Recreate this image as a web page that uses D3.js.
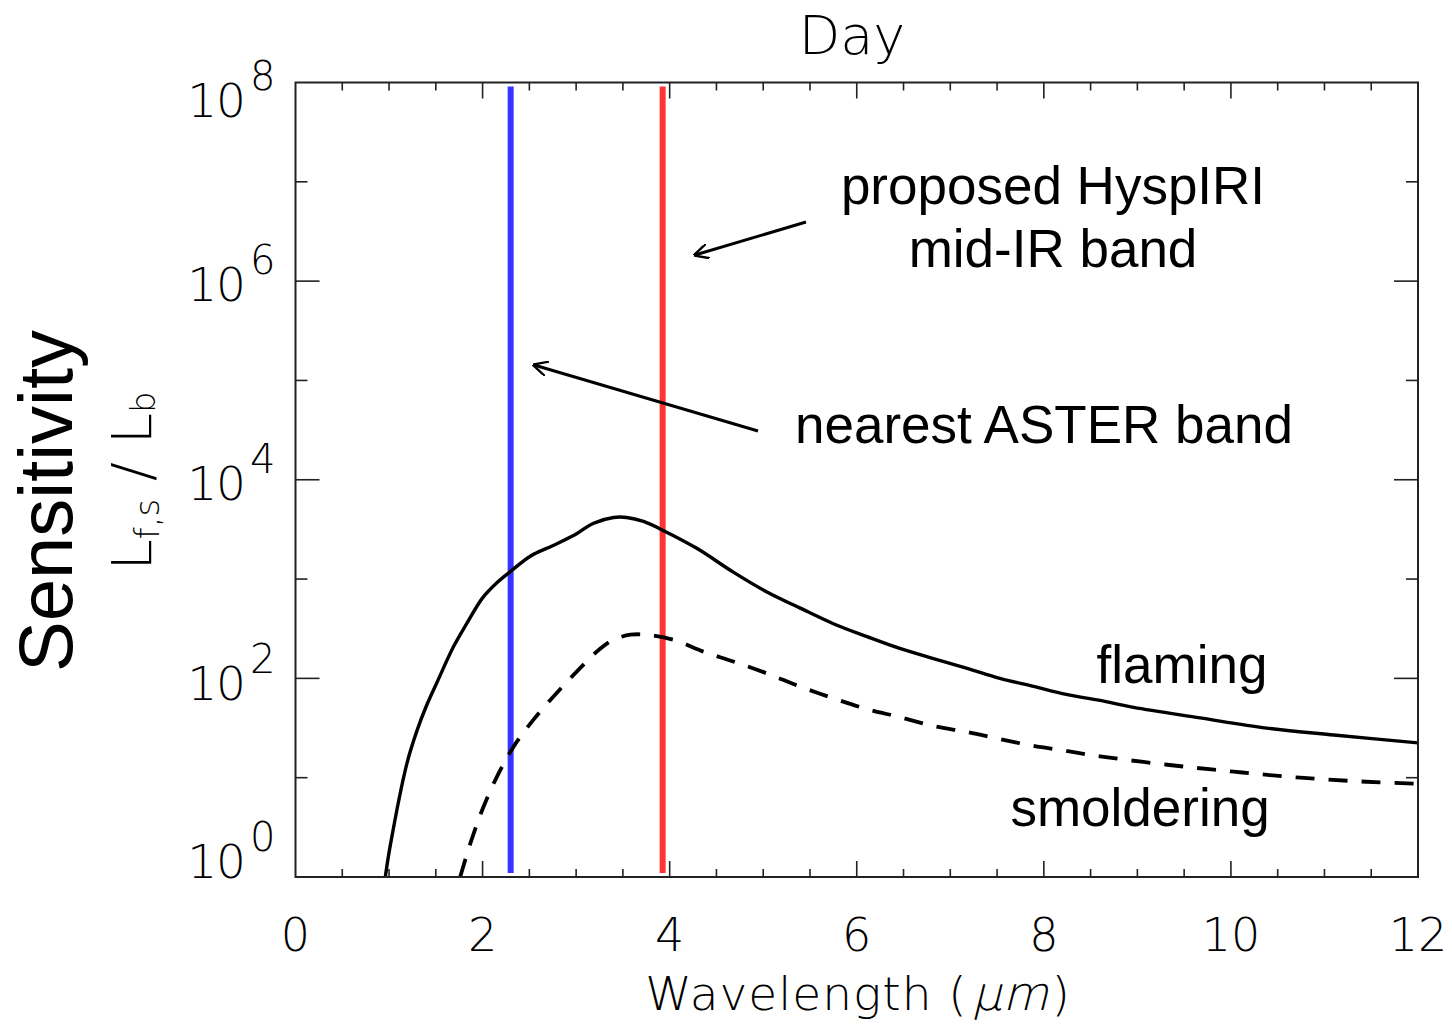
<!DOCTYPE html>
<html>
<head>
<meta charset="utf-8">
<script src="https://cdn.jsdelivr.net/npm/d3@7"></script>
<style>
  body { margin: 0; background: #fff; }
  .hershey { font-family: "DejaVu Sans", sans-serif; font-weight: 200; }
  .arial { font-family: "Liberation Sans", Arial, sans-serif; }
</style>
</head>
<body>
<div id="chart"></div>
<script>
// wavelength (um) and sensitivity Lf,s / Lb
let flamingX = [0.96, 1.01, 1.19, 1.30, 1.40, 1.51, 1.69, 1.83, 2.00, 2.15, 2.29, 2.51, 2.76, 3.01, 3.18, 3.40, 3.54, 3.72, 3.93, 4.29, 4.68, 5.04, 5.39, 5.75, 6.11, 6.46, 6.82, 7.18, 7.53, 7.89, 8.24, 8.60, 8.96, 9.67, 10.38, 11.10, 12.0];
let flamingY = [1.0, 2.0, 13.8, 30, 53, 90, 209, 355, 646, 912, 1175, 1700, 2190, 2880, 3630, 4170, 4170, 3800, 3090, 2040, 1175, 741, 513, 355, 263, 200, 158, 126, 100, 83, 69, 60, 51, 40, 31.6, 26.9, 22.4];

let smolderX = [1.76, 1.88, 2.01, 2.17, 2.33, 2.54, 2.79, 3.04, 3.26, 3.40, 3.58, 3.75, 4.04, 4.36, 4.68, 5.04, 5.39, 5.75, 6.11, 6.46, 6.82, 7.18, 7.53, 7.89, 8.24, 8.60, 9.32, 10.03, 10.74, 11.45, 12.0];
let smolderY = [1.0, 2.34, 5.1, 11, 20.4, 38, 70.8, 126, 200, 245, 275, 275, 245, 186, 148, 112, 83, 63, 49, 40.7, 33.1, 28.8, 24.5, 20.9, 18.6, 16.4, 13.5, 11.5, 10.0, 9.1, 8.7];

let bands = [{name: 'ASTER', x: 2.30, color: '#3535ff'}, {name: 'HyspIRI', x: 3.925, color: '#ff3434'}];

let xTicks = [0, 2, 4, 6, 8, 10, 12];
let yExponents = [0, 2, 4, 6, 8];

let width = 1452, height = 1028;
let pLeft = 295.5, pRight = 1418, pTop = 82.5, pBottom = 877;

let svg = d3.select('#chart').append('svg')
    .attr('width', width)
    .attr('height', height);

let x = d3.scaleLinear().domain([0, 12]).range([pLeft, pRight]);
let y = d3.scaleLog().domain([1, 1e8]).range([pBottom, pTop]);

svg.append('clipPath').attr('id', 'plot')
    .append('rect')
    .attr('x', pLeft).attr('y', pTop)
    .attr('width', pRight - pLeft).attr('height', pBottom - pTop);

// band markers
svg.selectAll('.band')
    .data(bands)
    .enter()
    .append('line')
    .attr('class', 'band')
    .attr('x1', d => x(d.x)).attr('x2', d => x(d.x))
    .attr('y1', pTop + 4).attr('y2', pBottom - 4)
    .attr('stroke', d => d.color)
    .attr('stroke-width', 6);

// curves
let line = d3.line()
    .x(d => x(d[0]))
    .y(d => y(d[1]))
    .curve(d3.curveCatmullRom.alpha(0.5));

let g = svg.append('g').attr('clip-path', 'url(#plot)');
g.append('path')
    .attr('d', line(d3.zip(flamingX, flamingY)))
    .attr('fill', 'none')
    .attr('stroke', '#000')
    .attr('stroke-width', 3.4);
g.append('path')
    .attr('d', line(d3.zip(smolderX, smolderY)))
    .attr('fill', 'none')
    .attr('stroke', '#000')
    .attr('stroke-width', 3.8)
    .attr('stroke-dasharray', '19,14');

// frame and ticks
let minorX = d3.range(0, 12.01, 0.5);
let decades = d3.range(0, 9);

let frame = svg.append('g').attr('stroke', '#222').attr('fill', 'none');
frame.append('rect')
    .attr('x', pLeft).attr('y', pTop)
    .attr('width', pRight - pLeft).attr('height', pBottom - pTop)
    .attr('stroke-width', 2);

minorX.forEach(v => {
    let len = (v % 2 === 0) ? 16 : 8;
    if (v === 0 || v === 12) return;
    frame.append('line').attr('x1', x(v)).attr('x2', x(v))
        .attr('y1', pBottom).attr('y2', pBottom - len).attr('stroke-width', 1.6);
    frame.append('line').attr('x1', x(v)).attr('x2', x(v))
        .attr('y1', pTop).attr('y2', pTop + len).attr('stroke-width', 1.6);
});
decades.forEach(e => {
    if (e === 0 || e === 8) return;
    let len = (e % 2 === 0) ? 24 : 12;
    let yy = y(Math.pow(10, e));
    frame.append('line').attr('x1', pLeft).attr('x2', pLeft + len)
        .attr('y1', yy).attr('y2', yy).attr('stroke-width', 1.6);
    frame.append('line').attr('x1', pRight).attr('x2', pRight - len)
        .attr('y1', yy).attr('y2', yy).attr('stroke-width', 1.6);
});

// x tick labels
svg.selectAll('.xlab')
    .data(xTicks)
    .enter()
    .append('text')
    .attr('class', 'hershey')
    .attr('x', d => x(d))
    .attr('y', 951)
    .attr('text-anchor', 'middle')
    .style('font-size', '46px')
    .text(d => d);

// y tick labels
let yLabelBase = {0: 878, 2: 700, 4: 500, 6: 301, 8: 117};
yExponents.forEach(e => {
    let t = svg.append('g').attr('class', 'hershey');
    t.append('text')
        .attr('x', 245).attr('y', yLabelBase[e])
        .attr('text-anchor', 'end')
        .style('font-size', '47px')
        .style('letter-spacing', '-1px')
        .text('10');
    t.append('text')
        .attr('x', 250).attr('y', yLabelBase[e] - 27)
        .style('font-size', '40px')
        .text(e);
});

// titles
svg.append('text')
    .attr('class', 'hershey')
    .attr('x', 852).attr('y', 54)
    .attr('text-anchor', 'middle')
    .style('font-size', '54px')
    .text('Day');

// x title: light glyphs, mu + m slanted by hand so they stay thin
let xt = svg.append('g').attr('class', 'hershey')
    .style('font-size', '47px').style('letter-spacing', '1px');
let part1 = xt.append('text').attr('y', 1010).text('Wavelength (');
let part2 = xt.append('text').text('\u03bcm');
let part3 = xt.append('text').attr('y', 1010).text(')');
let w1 = part1.node().getComputedTextLength(),
    w2 = part2.node().getComputedTextLength(),
    w3 = part3.node().getComputedTextLength();
let x0 = 857 - (w1 + w2 + w3 + 4) / 2;
part1.attr('x', x0);
part2.attr('transform', 'translate(' + (x0 + w1 + 4) + ',1010) skewX(-14)');
part3.attr('x', x0 + w1 + w2 + 6);

svg.append('text')
    .attr('class', 'arial')
    .attr('transform', 'translate(72,501) rotate(-90)')
    .attr('text-anchor', 'middle')
    .style('font-size', '76px')
    .text('Sensitivity');

let yl = svg.append('text')
    .attr('class', 'hershey')
    .attr('transform', 'translate(151,481) rotate(-90)')
    .attr('text-anchor', 'middle')
    .style('font-size', '56px');
yl.append('tspan').text('L');
yl.append('tspan').attr('dy', 8).style('font-size', '34px').text('f,s');
yl.append('tspan').attr('dy', -8).text(' / L');
yl.append('tspan').attr('dy', 4).style('font-size', '34px').text('b');

// annotations
let notes = [
    {text: 'proposed HyspIRI', x: 1053, y: 204},
    {text: 'mid-IR band', x: 1053, y: 267},
    {text: 'nearest ASTER band', x: 1044, y: 443},
    {text: 'flaming', x: 1182, y: 683},
    {text: 'smoldering', x: 1140, y: 826}
];
svg.selectAll('.note')
    .data(notes)
    .enter()
    .append('text')
    .attr('class', 'arial')
    .attr('x', d => d.x).attr('y', d => d.y)
    .attr('text-anchor', 'middle')
    .style('font-size', '53px')
    .text(d => d.text);

svg.append('defs').append('marker')
    .attr('id', 'head')
    .attr('viewBox', '0 0 10 10')
    .attr('refX', 9).attr('refY', 5)
    .attr('markerWidth', 5).attr('markerHeight', 5)
    .attr('markerUnits', 'strokeWidth')
    .attr('orient', 'auto')
    .append('path')
    .attr('d', 'M0,0 L10,5 L0,10')
    .attr('fill', 'none')
    .attr('stroke', '#000')
    .attr('stroke-width', 1.6);

let arrows = [
    {x1: 806, y1: 222, x2: 695, y2: 255},
    {x1: 758, y1: 431, x2: 534, y2: 365}
];
svg.selectAll('.arrow')
    .data(arrows)
    .enter()
    .append('line')
    .attr('x1', d => d.x1).attr('y1', d => d.y1)
    .attr('x2', d => d.x2).attr('y2', d => d.y2)
    .attr('stroke', '#000')
    .attr('stroke-width', 3)
    .attr('marker-end', 'url(#head)');
</script>
</body>
</html>
